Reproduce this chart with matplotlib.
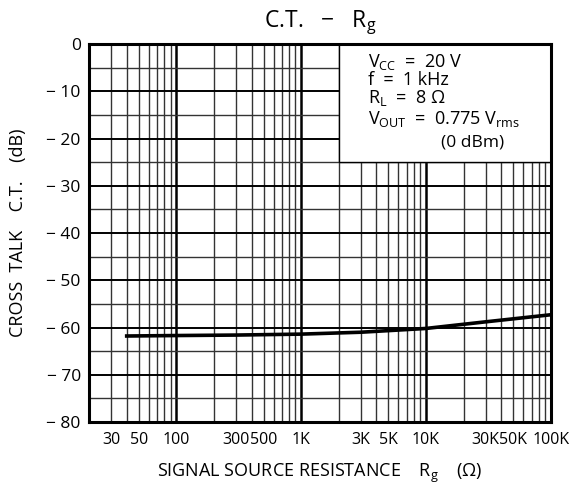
import numpy as np
import matplotlib.pyplot as plt
from matplotlib.patches import Rectangle

plt.rcParams['font.family'] = ['Open Sans', 'DejaVu Sans']
plt.rcParams['mathtext.fontset'] = 'custom'
plt.rcParams['mathtext.rm'] = 'Open Sans'
plt.rcParams['mathtext.it'] = 'Open Sans'

# curve
rg = [40, 100, 300, 1000, 3000, 10000, 30000, 100000]
ct = [-61.8, -61.7, -61.6, -61.4, -61.0, -60.2, -58.8, -57.3]

xtick_vals = [30, 50, 100, 300, 500, 1000, 3000, 5000, 10000, 30000, 50000, 100000]
xtick_labels = ['30', '50', '100', '300', '500', '1K', '3K', '5K', '10K', '30K', '50K', '100K']
ytick_vals = [0, -10, -20, -30, -40, -50, -60, -70, -80]
ytick_labels = ['0', '− 10', '− 20', '− 30', '− 40', '− 50', '− 60', '− 70', '− 80']

fig = plt.figure(figsize=(5.75, 4.95), dpi=100)
ax = fig.add_axes([0.155, 0.1475, 0.803, 0.7635])
ax.set_xscale('log')
ax.set_xlim(20, 100000)
ax.set_ylim(-80, 0)

# grid
for dec in [10, 100, 1000, 10000]:
    for m in range(1, 10):
        v = dec * m
        if v <= 20 or v >= 100000:
            continue
        if m == 1:
            ax.axvline(v, color='black', lw=1.8, zorder=1)
        else:
            ax.axvline(v, color='#333333', lw=1.0, zorder=1)
for yv in range(-75, 0, 5):
    if yv % 10 == 0:
        ax.axhline(yv, color='black', lw=1.4, zorder=1)
    else:
        ax.axhline(yv, color='#333333', lw=1.0, zorder=1)

# condition box
ax.add_patch(Rectangle((2000, -25), 100000 - 2000, 25, facecolor='white',
                       edgecolor='black', lw=1.0, zorder=2))
cond = [r'$\mathregular{V_{CC}}$  =  20 V', 'f  =  1 kHz', r'$\mathregular{R_L}$  =  8 Ω',
        r'$\mathregular{V_{OUT}}$  =  0.775 $\mathregular{V_{rms}}$']
ys = [62, 80, 98, 119]
for s, yp in zip(cond, ys):
    fig.text(368 / 575, 1 - yp / 495, s, fontsize=13, ha='left', va='center')
fig.text(441 / 575, 1 - 142 / 495, '(0 dBm)', fontsize=12.5, ha='left', va='center')

ax.plot(rg, ct, color='black', lw=2.6, zorder=3)

ax.set_xticks(xtick_vals)
ax.set_xticklabels(xtick_labels)
ax.xaxis.set_minor_locator(plt.NullLocator())
ax.set_yticks(ytick_vals)
ax.set_yticklabels(ytick_labels)
ax.tick_params(axis='y', length=0, labelsize=12.5, pad=6)
ax.tick_params(axis='x', length=0, labelsize=11.5, pad=7)

for sp in ax.spines.values():
    sp.set_linewidth(2.2)
    sp.set_zorder(4)

ax.set_title(r'C.T.   −   $\mathregular{R_g}$', fontsize=16.5, pad=12)
ax.set_xlabel(r'SIGNAL SOURCE RESISTANCE    $\mathregular{R_g}$    (Ω)', fontsize=13, labelpad=10)
ax.set_ylabel('CROSS  TALK    C.T.    (dB)', fontsize=13, labelpad=14)

fig.savefig('out.png', dpi=100)
